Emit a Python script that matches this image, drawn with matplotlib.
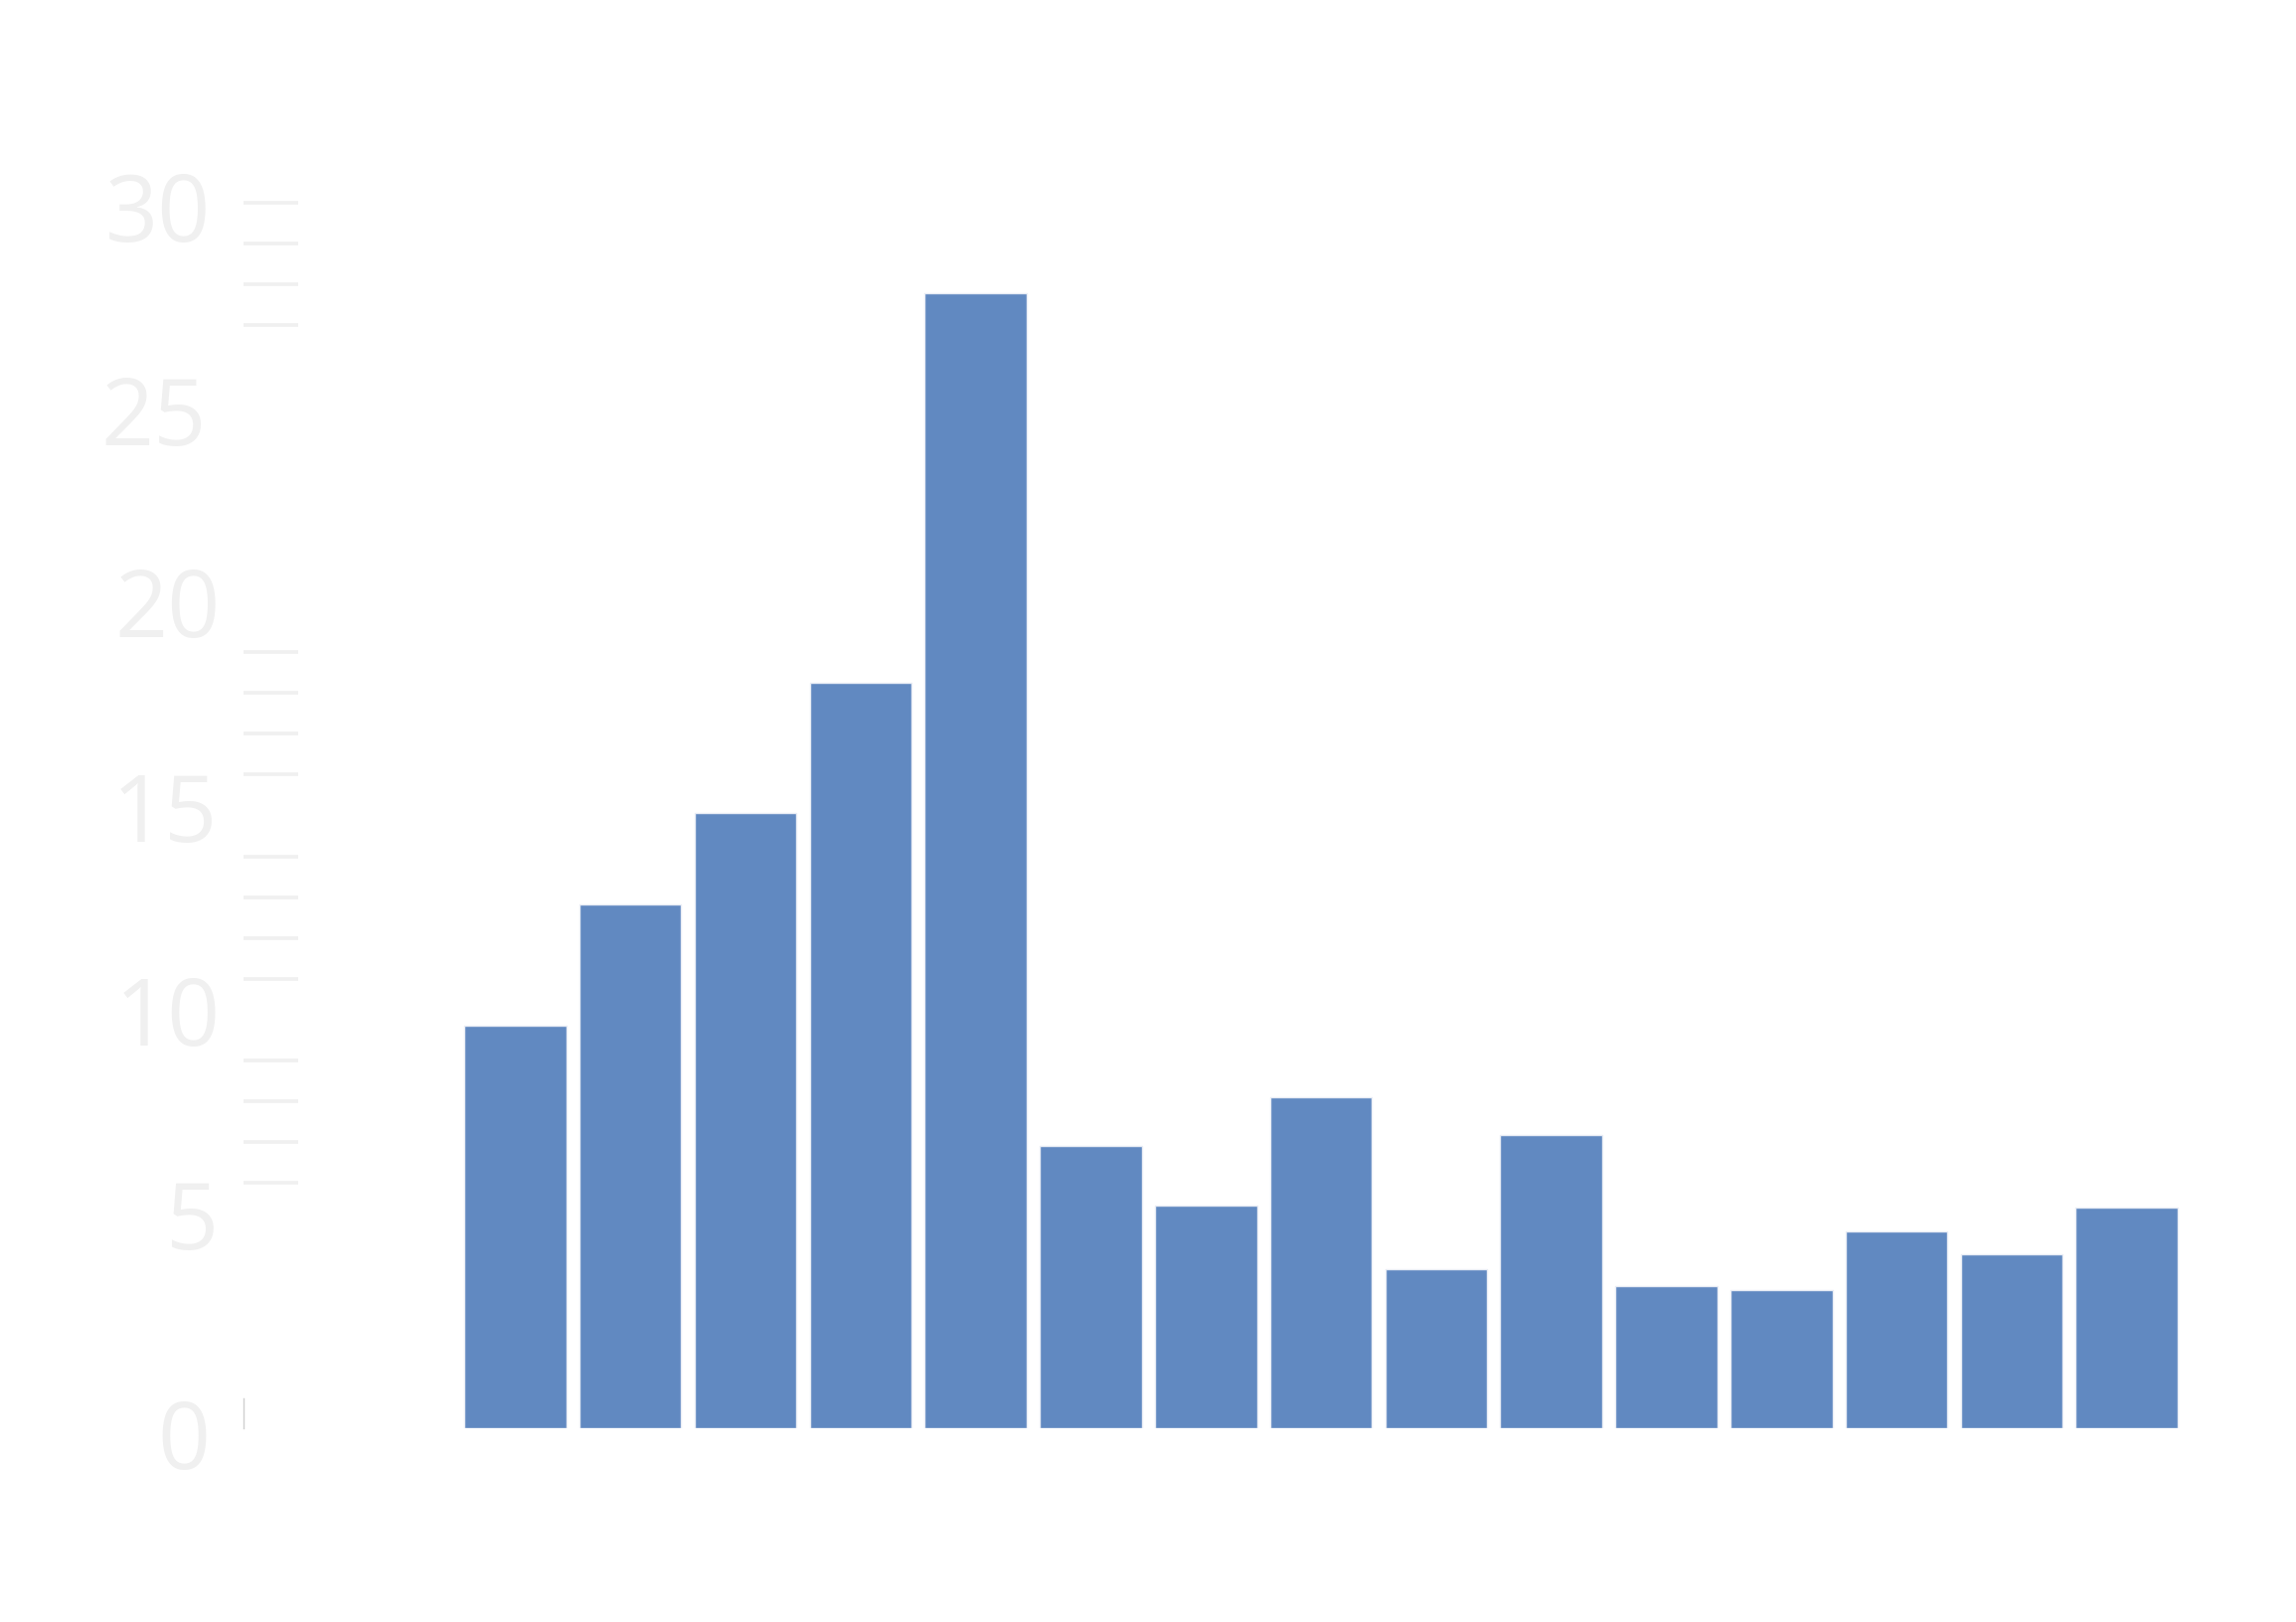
import matplotlib.pyplot as plt
from matplotlib.transforms import ScaledTranslation

# bar heights (15 unlabeled categories)
categories = list(range(15))
values = [9.86, 12.82, 15.07, 18.25, 27.78, 6.90, 5.44, 8.09, 3.89, 7.17,
          3.47, 3.39, 4.81, 4.25, 5.39]

major_ticks = [0, 5, 10, 15, 20, 25, 30]
major_labels = ["0", "5", "10", "15", "20", "25", "30"]
minor_ticks = [6, 7, 8, 9, 11, 12, 13, 14, 16, 17, 18, 19, 27, 28, 29, 30]

# small pixel nudges of the tick labels (the source positions them unevenly)
label_dx = [0, 7, 10, 7, 10, -4, 0]
label_dy = [6, -10, -9, -9, -9, 3, 3]


def plot_bars():
    fig = plt.figure(figsize=(23.1, 16.32), dpi=100)
    ax = fig.add_axes([0.1061, 0.1195, 0.8593, 0.7555])

    ax.bar(categories, values, width=0.885, color="#6189c1",
           edgecolor="#e9edf5", linewidth=1.0)

    ax.set_xlim(-2.36, 14.78)
    ax.set_ylim(0, 30)

    for side in ["top", "right", "bottom"]:
        ax.spines[side].set_visible(False)
    ax.spines["left"].set_bounds(0, 0.73)
    ax.spines["left"].set_color("#cfcfcf")
    ax.spines["left"].set_linewidth(1.0)

    ax.set_xticks([])
    ax.set_yticks(major_ticks)
    ax.set_yticklabels(major_labels)
    ax.set_yticks(minor_ticks, minor=True)
    ax.yaxis.remove_overlapping_locs = False
    ax.tick_params(axis="y", which="major", length=0, pad=24,
                   labelsize=67, labelcolor="#f0f0f0")
    ax.tick_params(axis="y", which="minor", direction="in", length=39.5,
                   width=2.6, color="#f0f0f0")
    for lbl, dx, dy in zip(ax.get_yticklabels(), label_dx, label_dy):
        lbl.set_family(["Open Sans", "DejaVu Sans"])
        lbl.set_transform(lbl.get_transform() +
                          ScaledTranslation(dx / 100, -dy / 100, fig.dpi_scale_trans))

    fig.savefig("out.png", dpi=100, facecolor="white")


if __name__ == "__main__":
    plot_bars()
